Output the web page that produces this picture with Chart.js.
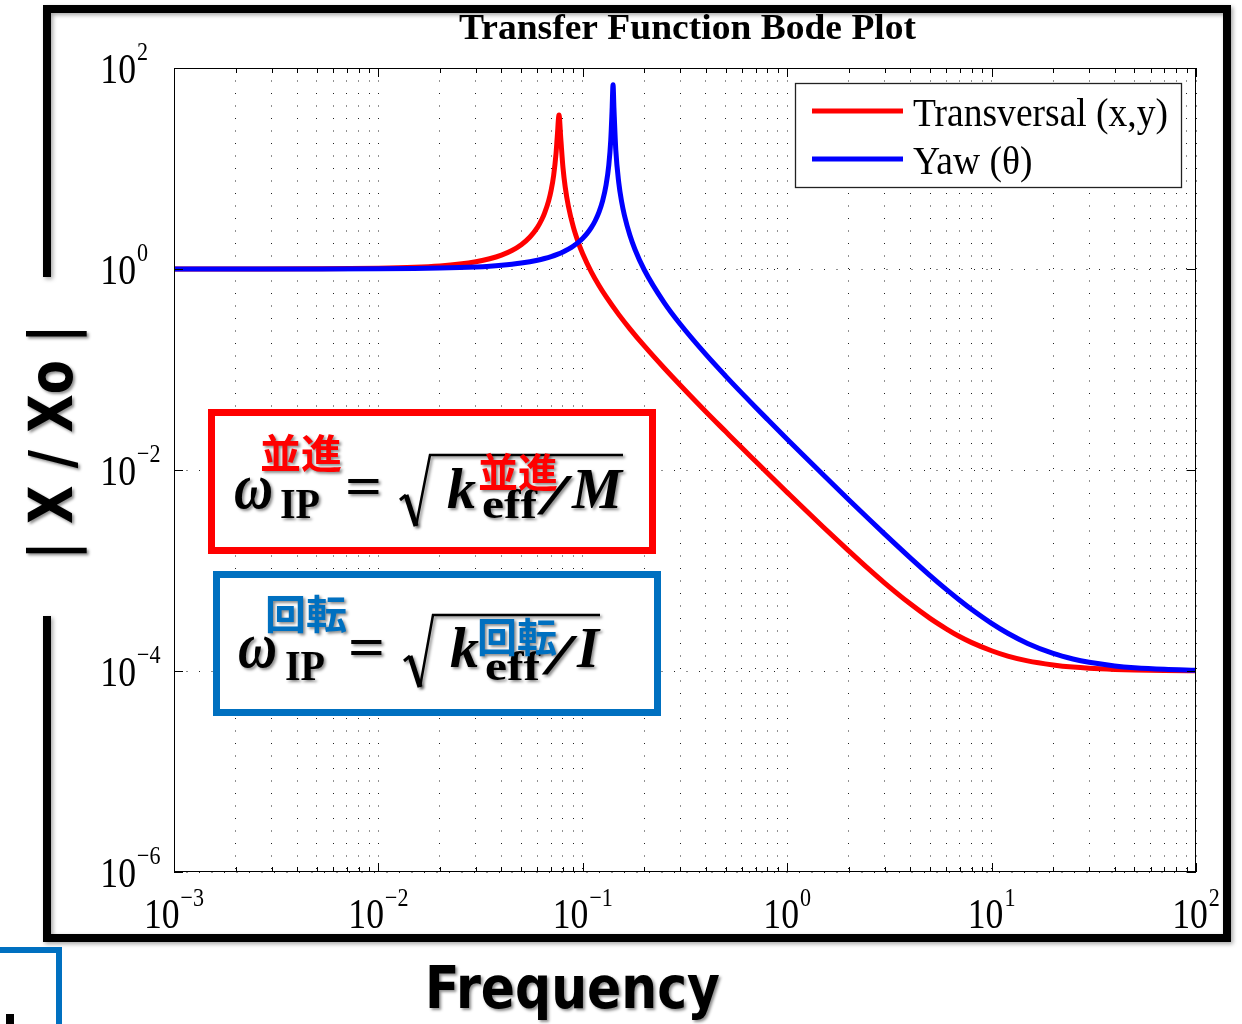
<!DOCTYPE html>
<html><head><meta charset="utf-8">
<script src="https://cdn.jsdelivr.net/npm/chart.js@4.4.0/dist/chart.umd.min.js"></script>
<style>html,body{margin:0;padding:0;background:#fff;overflow:hidden}</style>
</head><body>
<canvas id="c" width="1242" height="1024"></canvas>
<script>
// ---------------- data ----------------
const freqRed = [0.001,0.002,0.005,0.01,0.015,0.02,0.025,0.03,0.035,0.04,0.045,0.05,0.055,0.06,0.063,0.065,0.068,0.07,0.072,0.074,0.075,0.0765,0.078,0.08,0.082,0.085,0.09,0.095,0.1,0.11,0.12,0.13,0.15,0.17,0.2,0.25,0.3,0.4,0.5,0.6,0.7,0.8,1,1.2,1.5,2,2.5,3,4,5,6,7,8,10,12,15,20,25,30,40,50,70,100];
const magRed = [1.0002,1.0007,1.0043,1.0174,1.0401,1.0734,1.1197,1.1817,1.2648,1.3763,1.5292,1.7459,2.0699,2.598,3.108,3.597,4.728,6.064,8.51,14.22,20.69,34,20.13,10.15,6.566,4.222,2.593,1.8405,1.4088,0.9368,0.6848,0.5299,0.3516,0.254,0.1715,0.1034,0.0697,0.038,0.0241,0.01663,0.0122,0.009328,0.00599,0.00418,0.00271,0.00157,0.001037,0.00075,0.000466,0.000334,0.000263,0.000219,0.0001915,0.000159,0.0001406,0.000126,0.000115,0.0001094,0.0001065,0.0001037,0.0001023,0.0001012,0.0001006];
const freqYaw = [0.001,0.002,0.005,0.01,0.015,0.02,0.025,0.03,0.035,0.04,0.045,0.05,0.06,0.065,0.07,0.075,0.08,0.085,0.09,0.095,0.1,0.105,0.11,0.115,0.12,0.125,0.13,0.134,0.137,0.139,0.1406,0.142,0.145,0.15,0.155,0.16,0.17,0.18,0.2,0.25,0.3,0.4,0.5,0.6,0.7,0.8,1,1.2,1.5,2,2.5,3,4,5,6,7,8,10,12,15,20,25,30,40,50,70,100];
const magYaw = [1.0001,1.0002,1.0014,1.0052,1.0116,1.0208,1.0327,1.0478,1.0662,1.0882,1.1143,1.1449,1.2227,1.2719,1.3296,1.3978,1.4788,1.5761,1.6943,1.8403,2.0238,2.2611,2.5781,3.0213,3.6824,4.7626,6.862,10.784,19.04,37.19,68,40.13,15.3,7.19,4.631,3.39,2.1649,1.565,0.9772,0.4628,0.2816,0.1411,0.086,0.0582,0.0421,0.03197,0.02027,0.01402,0.008964,0.005067,0.003273,0.0023013,0.001337,0.0008914,0.0006494,0.0005036,0.000409,0.0002977,0.0002373,0.0001879,0.0001494,0.0001316,0.000122,0.0001124,0.0001079,0.000104,0.000102];

const seriesLabels = ['Transversal (x,y)', 'Yaw (\u03b8)'];
const xTickValues = [0.001,0.002,0.003,0.004,0.005,0.006,0.007,0.008,0.009,
  0.01,0.02,0.03,0.04,0.05,0.06,0.07,0.08,0.09,
  0.1,0.2,0.3,0.4,0.5,0.6,0.7,0.8,0.9,
  1,2,3,4,5,6,7,8,9,
  10,20,30,40,50,60,70,80,90,100];
const xMajorTicks = [0.001,0.01,0.1,1,10,100];
const xTickExponents = ['\u22123','\u22122','\u22121','0','1','2'];
const yTickValues = [1e-6,1e-4,1e-2,1,100];
const yTickExponents = ['\u22126','\u22124','\u22122','0','2'];
const titleText = 'Transfer Function Bode Plot';
const xTitle = 'Frequency';
const yTitle = '| X / Xo |';
const redCjk = '\u4e26\u9032';   // 並進
const blueCjk = '\u56de\u8ee2';  // 回転

// ---------------- helpers ----------------
const SERIF = '"Liberation Serif","Times New Roman",serif';
const NARROW = '"Liberation Sans Narrow","DejaVu Sans Condensed","Open Sans",sans-serif';
const CJK = '"Noto Sans CJK JP","Noto Sans CJK SC",sans-serif';
const SX = 0.85;

function txt(ctx, s, x, y, font, o) {
  o = o || {};
  ctx.save();
  ctx.font = font;
  ctx.textAlign = o.align || 'left';
  ctx.textBaseline = o.baseline || 'alphabetic';
  ctx.fillStyle = o.color || '#000';
  let sx = o.sx || 1;
  if (o.width) sx = o.width / ctx.measureText(s).width;
  if (o.shadow) {
    ctx.shadowColor = 'rgba(0,0,0,0.45)';
    ctx.shadowBlur = 3; ctx.shadowOffsetX = 2; ctx.shadowOffsetY = 2;
  }
  ctx.translate(x, y);
  if (o.rotate) ctx.rotate(o.rotate);
  ctx.scale(sx, 1);
  ctx.fillText(s, 0, 0);
  ctx.restore();
}
function measure(ctx, s, font) { ctx.save(); ctx.font = font; const w = ctx.measureText(s).width; ctx.restore(); return w; }

function drawFormula(ctx, p) {
  ctx.save();
  ctx.fillStyle = '#fff';
  ctx.fillRect(p.box[0], p.box[1], p.box[2], p.box[3]);
  ctx.lineWidth = 7; ctx.strokeStyle = p.color;
  ctx.strokeRect(p.box[0], p.box[1], p.box[2], p.box[3]);
  ctx.restore();
  const sh = true;
  txt(ctx, p.cjk, p.cjk1[0], p.cjk1[1], 'bold 40px ' + CJK, {color: p.color, baseline: 'middle', width: 82, shadow: sh});
  txt(ctx, '\u03c9', p.w[0], p.w[1], 'bold italic 66px ' + SERIF, {shadow: sh, width: 39});
  txt(ctx, 'IP', p.ip[0], p.ip[1], 'bold 42px ' + SERIF, {shadow: sh, width: 40});
  txt(ctx, '=', p.eq[0], p.eq[1], 'bold 56px ' + SERIF, {shadow: sh, width: 37});
  // radical sign
  ctx.save();
  ctx.shadowColor = 'rgba(0,0,0,0.45)'; ctx.shadowBlur = 3; ctx.shadowOffsetX = 2; ctx.shadowOffsetY = 2;
  ctx.strokeStyle = '#000'; ctx.lineJoin = 'miter';
  const r = p.rad;
  ctx.lineWidth = 3;
  ctx.beginPath(); ctx.moveTo(r[0], r[1]); ctx.lineTo(r[2], r[3]); ctx.stroke();
  ctx.lineWidth = 5;
  ctx.beginPath(); ctx.moveTo(r[2], r[3]); ctx.lineTo(r[4], r[5]); ctx.stroke();
  ctx.lineWidth = 2.5;
  ctx.beginPath(); ctx.moveTo(r[4], r[5]); ctx.lineTo(r[6], r[7]); ctx.lineTo(r[8], r[7]); ctx.stroke();
  ctx.restore();
  txt(ctx, 'k', p.k[0], p.k[1], 'bold italic 58px ' + SERIF, {shadow: sh, width: 29});
  txt(ctx, 'eff', p.eff[0], p.eff[1], 'bold 42px ' + SERIF, {shadow: sh, width: 55});
  txt(ctx, '/', p.sl[0], p.sl[1], 'bold italic 58px ' + SERIF, {shadow: sh, width: 24});
  txt(ctx, p.den, p.dn[0], p.dn[1], 'bold italic 58px ' + SERIF, {shadow: sh, width: p.dn[2]});
  txt(ctx, p.cjk, p.cjk2[0], p.cjk2[1], 'bold 40px ' + CJK, {color: p.color, baseline: 'middle', width: 80, shadow: sh});
}

const decor = {
  id: 'decor',
  beforeDraw(chart) {
    const ctx = chart.ctx;
    ctx.save(); ctx.fillStyle = '#fff'; ctx.fillRect(0, 0, chart.width, chart.height); ctx.restore();
  },
  afterDraw(chart) {
    const ctx = chart.ctx, ca = chart.chartArea;
    const xs = chart.scales.x, ys = chart.scales.y;
    // outer frame
    ctx.save();
    ctx.shadowColor = 'rgba(0,0,0,0.35)'; ctx.shadowBlur = 4; ctx.shadowOffsetX = 2; ctx.shadowOffsetY = 2;
    ctx.strokeStyle = '#000'; ctx.lineWidth = 8; ctx.lineJoin = 'miter';
    ctx.beginPath();
    ctx.moveTo(47, 277); ctx.lineTo(47, 9); ctx.lineTo(1227, 9); ctx.lineTo(1227, 938); ctx.lineTo(47, 938); ctx.lineTo(47, 616);
    ctx.stroke();
    ctx.restore();

    // plot box
    ctx.save();
    ctx.strokeStyle = '#000'; ctx.lineWidth = 1;
    ctx.strokeRect(Math.round(ca.left) + 0.5, Math.round(ca.top) + 0.5, Math.round(ca.right - ca.left) - 1, Math.round(ca.bottom - ca.top) - 1);
    // inward ticks
    ctx.beginPath();
    xTickValues.forEach(v => {
      const px = Math.round(xs.getPixelForValue(v)) + 0.5;
      const len = xMajorTicks.includes(v) ? 9 : 5;
      ctx.moveTo(px, ca.bottom); ctx.lineTo(px, ca.bottom - len);
      ctx.moveTo(px, ca.top); ctx.lineTo(px, ca.top + len);
    });
    yTickValues.forEach(v => {
      const py = Math.round(ys.getPixelForValue(v)) + 0.5;
      ctx.moveTo(ca.left, py); ctx.lineTo(ca.left + 9, py);
      ctx.moveTo(ca.right, py); ctx.lineTo(ca.right - 9, py);
    });
    ctx.stroke();
    ctx.restore();

    // tick labels
    const fBig = '42px ' + SERIF, fExp = '26px ' + SERIF;
    xMajorTicks.forEach((v, i) => {
      const px = xs.getPixelForValue(v);
      const w1 = measure(ctx, '10', fBig) * SX;
      const w2 = measure(ctx, xTickExponents[i], fExp) * SX;
      const start = px - (w1 + w2 + 1) / 2;
      txt(ctx, '10', start, 928, fBig, {sx: SX});
      txt(ctx, xTickExponents[i], start + w1 + 1, 906, fExp, {sx: SX});
    });
    yTickValues.forEach((v, i) => {
      const py = ys.getPixelForValue(v);
      txt(ctx, '10', 136, py + 14.5, fBig, {sx: SX, align: 'right'});
      txt(ctx, yTickExponents[i], 137, py - 8, fExp, {sx: SX});
    });

    // legend
    ctx.save();
    ctx.fillStyle = '#fff'; ctx.fillRect(795, 83, 387, 105);
    ctx.strokeStyle = '#222'; ctx.lineWidth = 1.3; ctx.strokeRect(795.5, 83.5, 386, 104);
    const ds = chart.data.datasets;
    [111, 159].forEach((y, i) => {
      ctx.strokeStyle = ds[i].borderColor; ctx.lineWidth = 5;
      ctx.beginPath(); ctx.moveTo(812, y); ctx.lineTo(903, y); ctx.stroke();
    });
    ctx.restore();
    const fLeg = '40px ' + SERIF;
    const legSx = 255 / measure(ctx, ds[0].label, fLeg);
    txt(ctx, ds[0].label, 913, 126, fLeg, {sx: legSx});
    txt(ctx, ds[1].label, 913, 174, fLeg, {sx: legSx});

    // title
    txt(ctx, titleText, 459, 39, 'bold 35px ' + SERIF, {width: 457});

    // formula boxes
    drawFormula(ctx, {
      color: '#ff0000', cjk: redCjk, den: 'M',
      box: [211.5, 412.5, 441, 138],
      cjk1: [260, 453], w: [234, 508], ip: [280, 518], eq: [345, 505],
      rad: [400, 500, 406, 495, 416, 526, 430, 455, 623],
      k: [447, 508], eff: [482, 518], sl: [542, 514], dn: [572, 508, 50], cjk2: [478, 472]
    });
    drawFormula(ctx, {
      color: '#0070c0', cjk: blueCjk, den: 'I',
      box: [216.5, 574.5, 441, 138],
      cjk1: [265, 614], w: [238, 667], ip: [285, 680], eq: [348, 666],
      rad: [404, 661, 410, 656, 420, 687, 433, 615, 600],
      k: [450, 667], eff: [485, 680], sl: [547, 674], dn: [577, 667, 22], cjk2: [477, 637]
    });

    // axis titles
    txt(ctx, xTitle, 425, 1008, 'bold 58px ' + NARROW, {width: 295, shadow: true});
    txt(ctx, yTitle, 72, 442, 'bold 60px ' + NARROW, {align: 'center', width: 235, shadow: true, rotate: -Math.PI / 2});

    // fragment of neighbouring slide element (bottom-left)
    ctx.save();
    ctx.strokeStyle = '#0070c0'; ctx.lineWidth = 6;
    ctx.beginPath(); ctx.moveTo(0, 950); ctx.lineTo(59, 950); ctx.lineTo(59, 1024); ctx.stroke();
    ctx.fillStyle = '#000'; ctx.fillRect(6, 1014, 8, 10);
    ctx.restore();
  }
};

const chart = new Chart(document.getElementById('c').getContext('2d'), {
  type: 'line',
  data: {
    datasets: [
      {label: seriesLabels[0], data: freqRed.map((f, i) => ({x: f, y: magRed[i]})),
       borderColor: '#ff0000', borderWidth: 5, pointRadius: 0, cubicInterpolationMode: 'monotone', fill: false, order: 1, borderJoinStyle: 'round'},
      {label: seriesLabels[1], data: freqYaw.map((f, i) => ({x: f, y: magYaw[i]})),
       borderColor: '#0000ff', borderWidth: 5, pointRadius: 0, cubicInterpolationMode: 'monotone', fill: false, order: 0, borderJoinStyle: 'round'}
    ]
  },
  options: {
    responsive: false, animation: false, devicePixelRatio: 1,
    layout: {padding: {left: 174, right: 46, top: 68, bottom: 152}},
    plugins: {legend: {display: false}, tooltip: {enabled: false}, title: {display: false}},
    scales: {
      x: {
        type: 'logarithmic', min: 1e-3, max: 1e2,
        afterBuildTicks: s => { s.ticks = xTickValues.map(v => ({value: v})); },
        afterFit: s => { s.height = 0; },
        ticks: {display: false},
        grid: {color: '#222', lineWidth: 1, drawTicks: false},
        border: {display: false, dash: [1, 11.5]}
      },
      y: {
        type: 'logarithmic', min: 1e-6, max: 1e2,
        afterBuildTicks: s => { s.ticks = yTickValues.map(v => ({value: v})); },
        afterFit: s => { s.width = 0; },
        ticks: {display: false},
        grid: {color: '#222', lineWidth: 1, drawTicks: false},
        border: {display: false, dash: [1, 11.5]}
      }
    }
  },
  plugins: [decor]
});
</script>
</body></html>
